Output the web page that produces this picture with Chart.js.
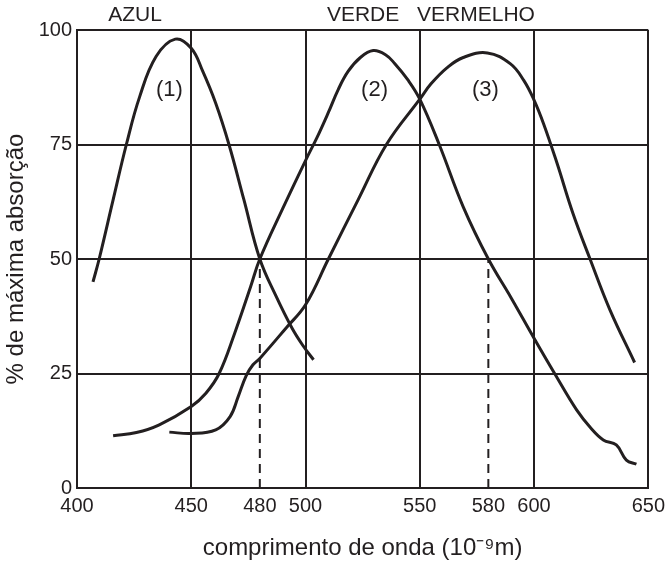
<!DOCTYPE html>
<html>
<head>
<meta charset="utf-8">
<script src="https://cdn.jsdelivr.net/npm/chart.js"></script>
<style>
  body { margin: 0; background: #fff; }
</style>
</head>
<body>
<canvas id="chart" width="671" height="567"></canvas>
<script>
// wavelength (nm) / % absorption
const azulX = [407, 409.7, 415.8, 421.6, 427.4, 434.6, 443, 450, 455, 460.7, 466.5, 473, 480, 487, 494, 499, 503.5];
const azulY = [45, 50, 62.9, 75, 85.4, 94.2, 98, 96, 91, 84, 75, 63, 50, 42, 35, 31, 28];

const verdeX = [415.8, 426, 436, 450, 456.4, 462.2, 469, 476, 480, 490, 500, 505, 510, 514.3, 518.7, 524, 529.6, 535, 539, 544.8, 550, 558.5, 569, 580, 590, 600, 609, 618.7, 625, 630.3, 636, 640.4, 644.8];
const verdeY = [11.4, 12.1, 13.8, 17.8, 20.7, 25, 33.8, 44, 50, 61, 71.5, 76.5, 82, 87, 91, 94, 95.5, 94.6, 92.7, 89.1, 84.9, 75, 61.4, 50, 41.5, 32.7, 25, 17, 13, 10.5, 9.4, 6.1, 5.2];

const vermX = [440.4, 450, 460.7, 467, 470.5, 474, 477, 480, 491.6, 500, 510, 523, 535.4, 550, 555, 562, 569, 579.6, 589.7, 595.5, 600, 604.2, 610, 617, 624.5, 633.2, 644];
const vermY = [12.2, 11.9, 12.7, 15.6, 19.9, 24.5, 26.9, 28.3, 35, 40, 50, 62.9, 75, 84.9, 88.3, 91.8, 94, 95, 92.6, 89, 84.7, 79.5, 71, 60, 50, 38.9, 27.4];

// dashed markers down from the 50% crossings
const dashX = [480, 580];
const dashTop = 50;

const xTicks = [400, 450, 480, 500, 550, 580, 600, 650];
const yTicks = [0, 25, 50, 75, 100];

const curveNames = ["(1)", "(2)", "(3)"];
const colourNames = ["AZUL", "VERDE", "VERMELHO"];

const INK = "#231f20";
const FONT = "'Liberation Sans', Arial, sans-serif";

function pts(xs, ys) {
    return xs.map((x, i) => ({ x: x, y: ys[i] }));
}

function curve(xs, ys) {
    return {
        data: pts(xs, ys),
        borderColor: INK,
        borderWidth: 3,
        pointRadius: 0,
        fill: false,
        tension: 0.4
    };
}

const datasets = [curve(azulX, azulY), curve(verdeX, verdeY), curve(vermX, vermY)];

dashX.forEach(x => {
    datasets.push({
        data: [{ x: x, y: 0 }, { x: x, y: dashTop }],
        borderColor: INK,
        borderWidth: 2,
        borderDash: [9, 6],
        pointRadius: 0,
        fill: false
    });
});

// text labels inside / above the plot
const labelPlugin = {
    id: "labels",
    afterDatasetsDraw(chart) {
        const c = chart.ctx;
        const xs = chart.scales.x;
        const ys = chart.scales.y;
        c.save();
        c.fillStyle = INK;
        c.textAlign = "center";
        c.textBaseline = "middle";

        c.font = "22px " + FONT;
        const numPos = [[440.4, 87], [530.2, 87], [578.7, 87]];
        curveNames.forEach((t, i) => {
            c.fillText(t, xs.getPixelForValue(numPos[i][0]), ys.getPixelForValue(numPos[i][1]));
        });

        c.font = "21px " + FONT;
        const topPos = [425.4, 525.2, 574.6];
        colourNames.forEach((t, i) => {
            c.fillText(t, xs.getPixelForValue(topPos[i]), chart.chartArea.top - 15);
        });
        c.restore();
    }
};

new Chart(document.getElementById("chart").getContext("2d"), {
    type: "line",
    data: { datasets: datasets },
    options: {
        responsive: false,
        animation: false,
        layout: { padding: { top: 30, right: 19, left: 0, bottom: 0 } },
        plugins: {
            legend: { display: false },
            tooltip: { enabled: false }
        },
        scales: {
            x: {
                type: "linear",
                min: 400,
                max: 650,
                afterBuildTicks: s => { s.ticks = xTicks.map(v => ({ value: v })); },
                afterFit: s => { s.height = 79; },
                grid: {
                    color: ctx => (ctx.tick && ctx.tick.value % 50 !== 0) ? "rgba(0,0,0,0)" : INK,
                    lineWidth: 2,
                    drawTicks: false
                },
                border: { color: INK, width: 2 },
                ticks: {
                    autoSkip: false,
                    maxRotation: 0,
                    padding: 6,
                    color: INK,
                    font: { family: FONT, size: 20 }
                },
                title: {
                    display: true,
                    text: "comprimento de onda (10⁻⁹m)",
                    color: INK,
                    font: { family: FONT, size: 24 },
                    padding: { top: 0, bottom: 4 }
                }
            },
            y: {
                min: 0,
                max: 100,
                afterBuildTicks: s => { s.ticks = yTicks.map(v => ({ value: v })); },
                afterFit: s => { s.width = 77; },
                grid: { color: INK, lineWidth: 2, drawTicks: false },
                border: { color: INK, width: 2 },
                ticks: {
                    padding: 5,
                    color: INK,
                    font: { family: FONT, size: 20 }
                },
                title: {
                    display: true,
                    text: "% de máxima absorção",
                    color: INK,
                    font: { family: FONT, size: 24 },
                    padding: { top: 2, bottom: 0 }
                }
            }
        }
    },
    plugins: [labelPlugin]
});
</script>
</body>
</html>
